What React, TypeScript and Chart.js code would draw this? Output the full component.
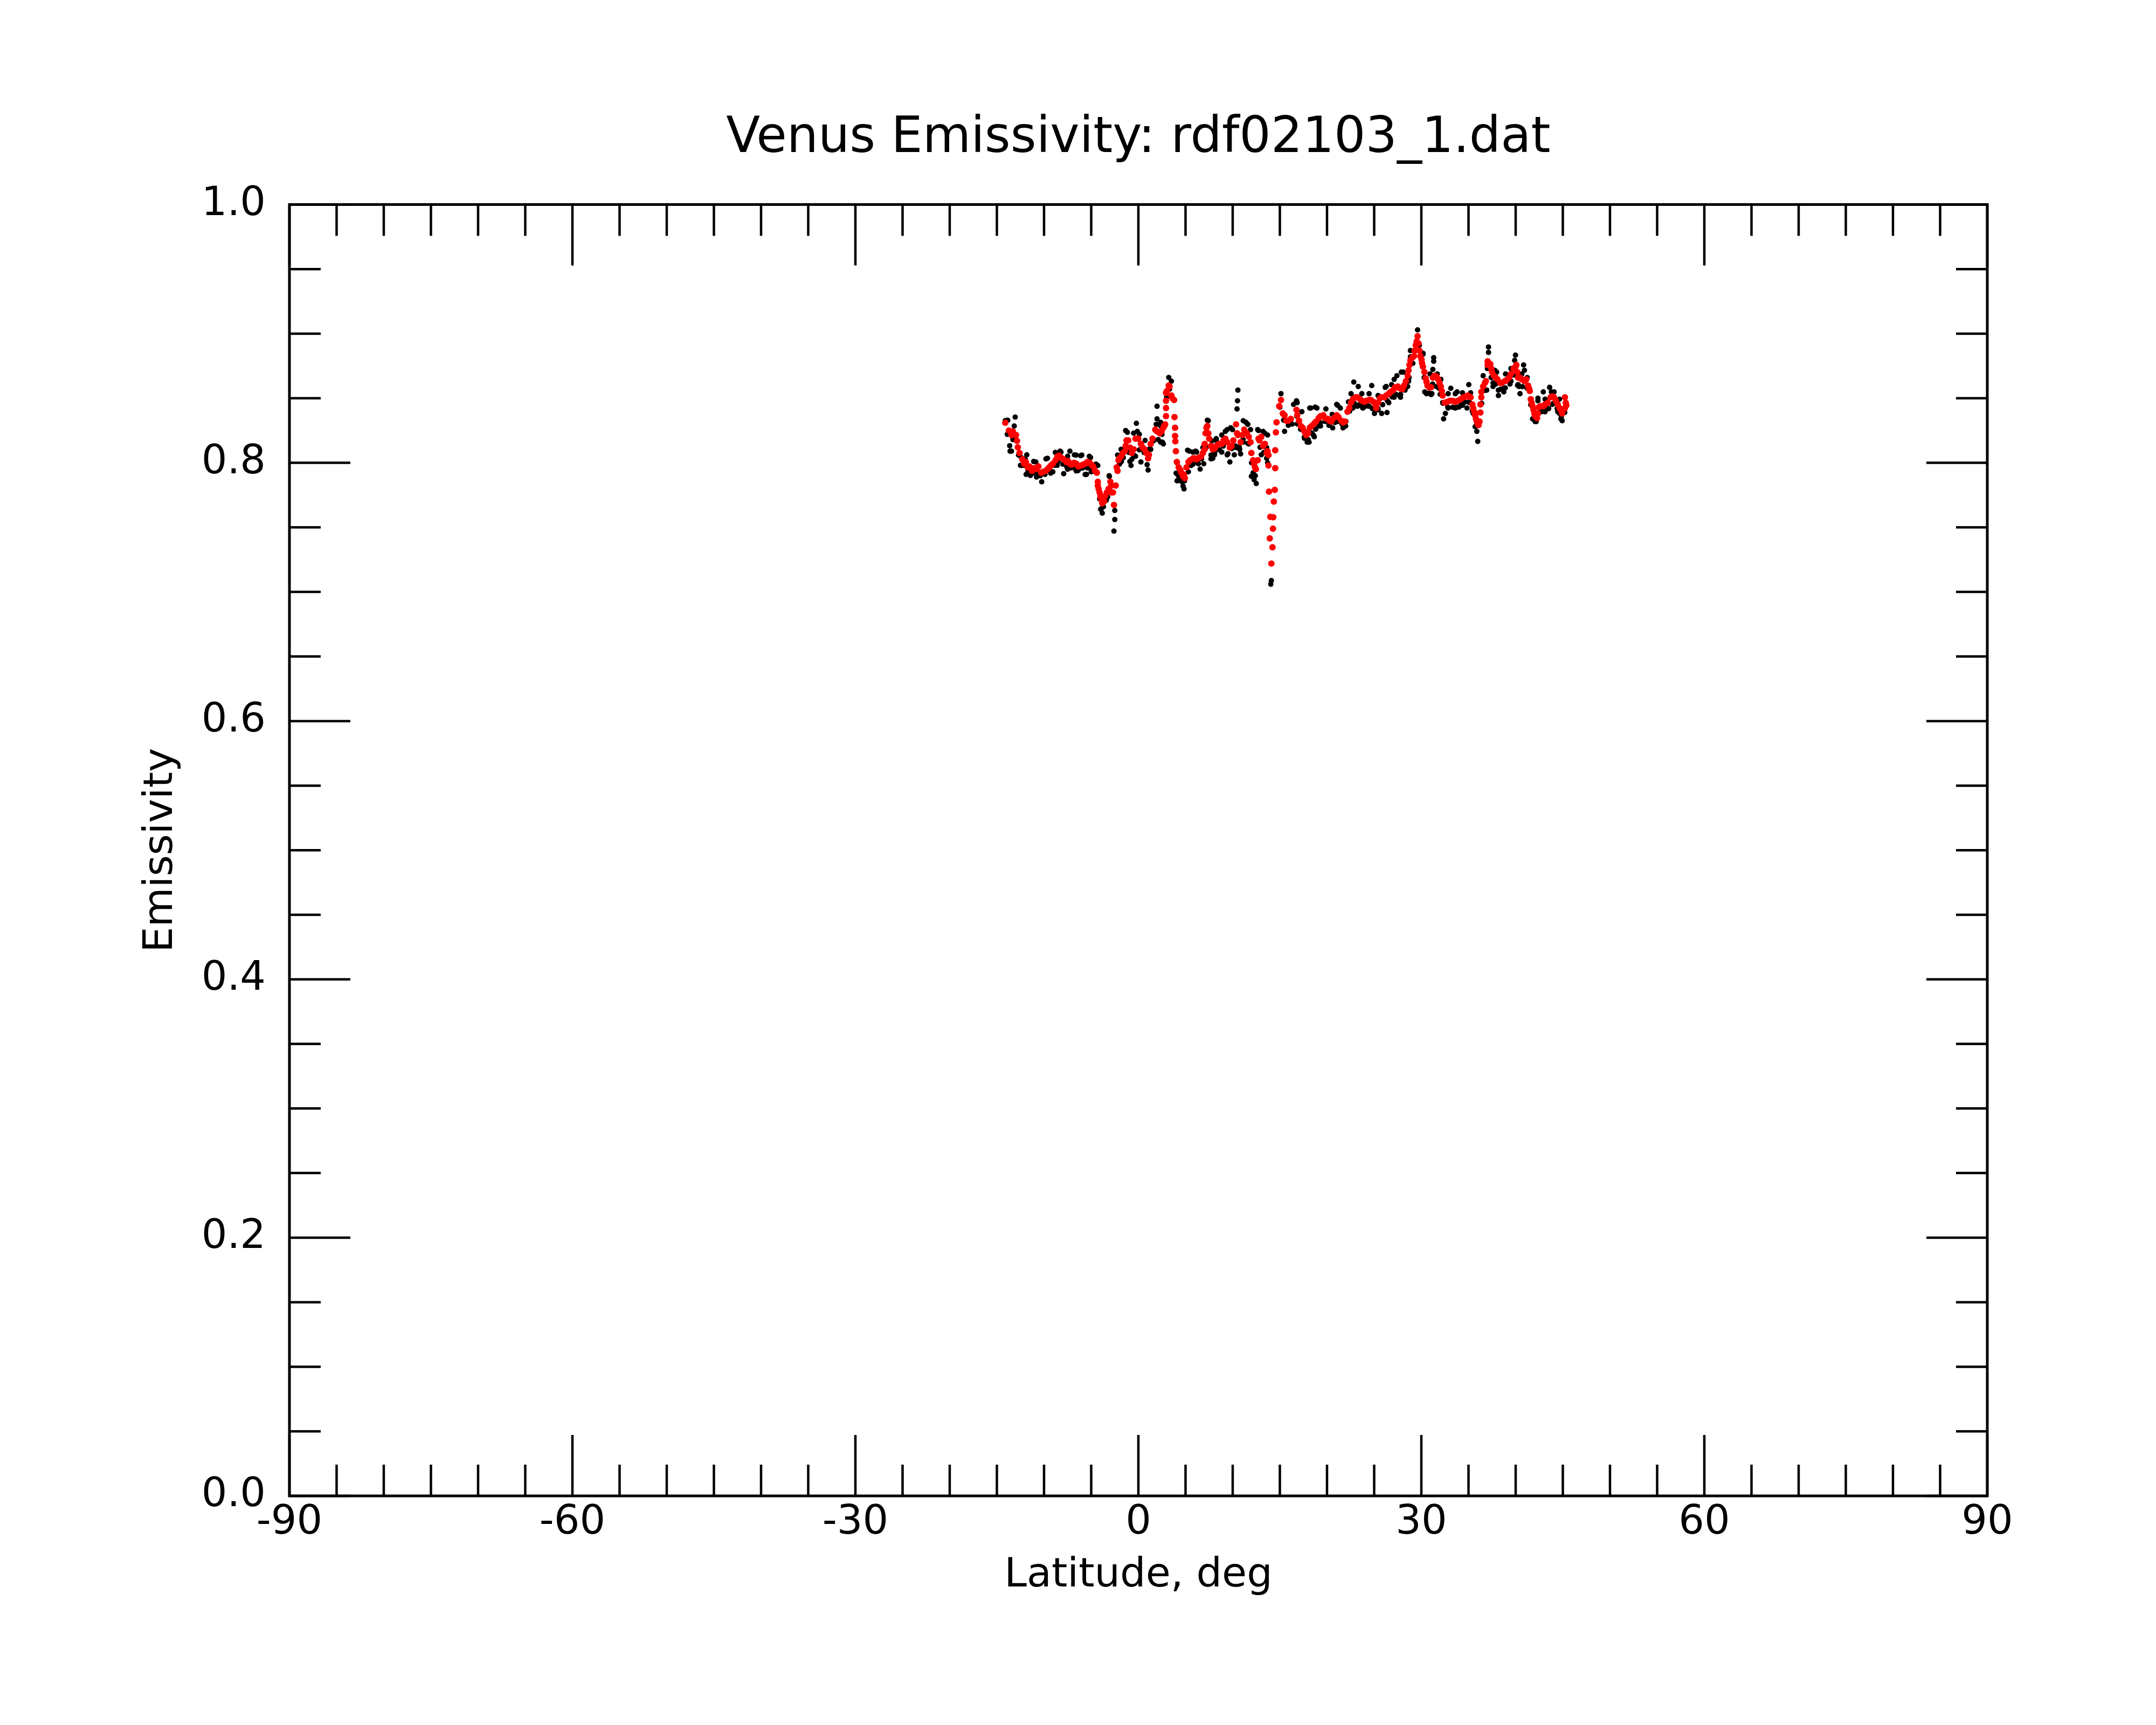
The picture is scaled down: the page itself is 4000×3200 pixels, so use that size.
import { Chart, registerables } from "chart.js";
import { useEffect, useRef } from "react";

Chart.register(...registerables);

const FONT = '"DejaVu Sans", sans-serif';

// Smoothed emissivity (red), latitude in degrees
const smoothLat = [
  -14.11, -13.73, -13.45, -12.97, -12.87, -12.78, -12.6, -12.3, -11.93, -11.54,
  -11.07, -10.6, -10.11, -9.64, -9.26, -8.78, -8.4, -7.92, -7.45, -7.07,
  -6.59, -6.11, -5.64, -5.16, -4.78, -4.4, -4.3, -4.21, -4.02, -3.83,
  -3.54, -3.16, -2.97, -2.69, -2.59, -2.4, -2.21, -2.11, -1.83, -1.45,
  -1.26, -0.88, -0.69, -0.3, 0.27, 0.46, 0.84, 1.03, 1.31, 1.79,
  2.27, 2.65, 2.84, 2.93, 2.93, 2.93, 3.22, 3.5, 3.79, 3.83,
  3.89, 3.89, 3.92, 3.98, 4.08, 4.46, 4.74, 5.1, 5.5, 5.98,
  6.46, 6.84, 7.03, 7.12, 7.31, 7.5, 7.89, 8.26, 8.84, 9.22,
  9.7, 10.07, 10.36, 10.46, 10.84, 11.22, 11.7, 11.98, 12.17, 12.36,
  12.65, 12.84, 13.22, 13.6, 13.79, 13.79, 13.85, 13.93, 13.99, 14.1,
  14.22, 14.27, 14.3, 14.36, 14.46, 14.51, 14.51, 14.58, 14.65, 14.93,
  15.12, 15.31, 15.7, 16.17, 16.76, 17.03, 17.41, 17.79, 18.17, 18.65,
  19.12, 19.6, 20.08, 20.46, 21.03, 21.5, 21.89, 22.17, 22.55, 23.03,
  23.5, 23.98, 24.46, 24.93, 25.22, 25.6, 26.08, 26.55, 27.03, 27.5,
  27.98, 28.36, 28.65, 28.84, 29.22, 29.41, 29.6, 29.79, 30.02, 30.17,
  30.33, 30.46, 30.65, 31.03, 31.41, 31.79, 32.07, 32.26, 32.46, 33.03,
  33.6, 34.17, 34.74, 35.22, 35.41, 35.6, 35.79, 35.98, 36.17, 36.26,
  36.26, 36.36, 36.55, 36.84, 37.03, 37.31, 37.5, 37.89, 38.36, 38.84,
  39.31, 39.79, 40.07, 40.26, 40.65, 41.12, 41.31, 41.5, 41.6, 41.79,
  41.98, 42.27, 42.46, 42.93, 43.41, 43.89, 44.26, 44.65, 44.93, 45.22,
  45.31, 45.22,
  -13.31, -12.11, -11.73, -11.26, -10.78, -10.3, -9.83, -9.45, -9.07, -8.59,
  -8.21, -7.64, -7.26, -6.82, -6.36, -5.87, -5.41, -4.97, -4.59, -4.3,
  -4.11, -3.92, -3.64, -3.35, -2.87, -2.87, -2.3, -2.02, -1.64, -1.35,
  -1.07, -0.5, -0.02, 0.65, 1.12, 1.5, 1.98, 2.46, 2.74, 3.03,
  3.31, 3.6, 2.93, 4.27, 4.55, 4.84, 4.93, 5.31, 5.79, 6.17,
  6.65, 7.03, 7.22, 7.41, 7.7, 8.07, 8.55, 9.03, 9.41, 9.88,
  10.55, 11.03, 11.5, 11.89, 12.27, 12.46, 12.74, 13.03, 13.41, 13.7,
  15.5, 15.89, 16.84, 17.22, 17.6, 17.98, 18.36, 18.84, 19.31, 19.79,
  20.27, 20.74, 21.22, 21.7, 22.36, 22.74, 23.22, 23.7, 24.17, 24.65,
  25.12, 25.41, 25.79, 26.27, 26.74, 27.22, 27.7, 28.17, 28.55, 28.74,
  29.03, 29.31, 29.5, 29.7, 29.89, 30.07, 30.55, 30.84, 31.22, 31.6,
  31.93, 32.17, 32.74, 33.31, 33.88, 34.46, 34.93, 35.5, 35.7, 35.88,
  36.07, 36.36, 36.74, 37.03, 37.41, 37.7, 38.07, 38.55, 39.03, 39.5,
  39.98, 40.17, 40.46, 40.93, 41.41, 41.7, 41.89, 42.07, 42.36, 42.65,
  43.12, 43.7, 44.07, 44.46, 44.8, 45.03, 45.37,
];
const smoothEmis = [
  0.831, 0.825, 0.8215, 0.8215, 0.817, 0.812, 0.8076, 0.8027, 0.8006, 0.7972,
  0.7958, 0.7972, 0.793, 0.7951, 0.7979, 0.802, 0.8055, 0.8027, 0.8013, 0.7985,
  0.7993, 0.7979, 0.7993, 0.8, 0.7972, 0.7923, 0.7853, 0.7798, 0.7742, 0.7687,
  0.7742, 0.7798, 0.7853, 0.777, 0.7673, 0.7824, 0.7937, 0.802, 0.8048, 0.809,
  0.8173, 0.8118, 0.8076, 0.8187, 0.8146, 0.8118, 0.8076, 0.8035, 0.8146, 0.8257,
  0.8229, 0.8271, 0.8298, 0.8361, 0.8424, 0.8542, 0.8598, 0.8521, 0.8486, 0.8354,
  0.8271, 0.8208, 0.8166, 0.809, 0.8006, 0.7944, 0.7895, 0.7965, 0.802, 0.8035,
  0.8041, 0.8076, 0.8146, 0.8229, 0.8285, 0.8187, 0.8104, 0.8131, 0.8146, 0.8187,
  0.8118, 0.8173, 0.8298, 0.8229, 0.816, 0.8257, 0.8202, 0.8076, 0.802, 0.7965,
  0.802, 0.8173, 0.8131, 0.8076, 0.806, 0.7979, 0.7777, 0.7415, 0.7582, 0.722,
  0.7346, 0.749, 0.7578, 0.77, 0.779, 0.7958, 0.8097, 0.8236, 0.8313, 0.8438,
  0.8486, 0.8382, 0.8326, 0.834, 0.841, 0.8326, 0.8271, 0.8215, 0.8271, 0.8306,
  0.8347, 0.8368, 0.834, 0.8319, 0.8368, 0.8326, 0.8319, 0.8396, 0.8465, 0.8507,
  0.8493, 0.8472, 0.8486, 0.8472, 0.8424, 0.85, 0.8507, 0.8535, 0.8563, 0.8591,
  0.857, 0.8632, 0.8716, 0.8793, 0.8827, 0.8911, 0.898, 0.8869, 0.88, 0.8744,
  0.8702, 0.8653, 0.8598, 0.8584, 0.8674, 0.8646, 0.8591, 0.8521, 0.8465, 0.848,
  0.8472, 0.8493, 0.8514, 0.8507, 0.8452, 0.8396, 0.834, 0.8298, 0.8319, 0.8389,
  0.8452, 0.8507, 0.8591, 0.8632, 0.8786, 0.8765, 0.8702, 0.866, 0.8619, 0.8632,
  0.866, 0.873, 0.8758, 0.866, 0.8646, 0.8646, 0.8598, 0.8556, 0.8493, 0.8438,
  0.8382, 0.8347, 0.8431, 0.8438, 0.8465, 0.8514, 0.848, 0.8424, 0.8382, 0.8424,
  0.8465, 0.8507,
  0.8243, 0.7993, 0.7965, 0.7937, 0.7951, 0.7923, 0.7937, 0.7965, 0.7993, 0.8048,
  0.8041, 0.8006, 0.7993, 0.8, 0.7972, 0.7985, 0.8006, 0.7985, 0.7937, 0.7824,
  0.777, 0.7715, 0.7701, 0.777, 0.7824, 0.777, 0.7965, 0.8035, 0.8076, 0.8131,
  0.8173, 0.8104, 0.8187, 0.8104, 0.8062, 0.8187, 0.8243, 0.8243, 0.8285, 0.8556,
  0.8591, 0.85, 0.848, 0.7965, 0.7923, 0.7909, 0.7881, 0.8006, 0.8035, 0.8027,
  0.8048, 0.8104, 0.8271, 0.8229, 0.8131, 0.811, 0.8146, 0.8173, 0.816, 0.8131,
  0.8215, 0.8215, 0.8229, 0.816, 0.7993, 0.7951, 0.8187, 0.8201, 0.8146, 0.809,
  0.8368, 0.8326, 0.8368, 0.8285, 0.8243, 0.8229, 0.8285, 0.8319, 0.8361, 0.8347,
  0.8326, 0.8347, 0.8354, 0.8312, 0.8424, 0.8493, 0.8507, 0.848, 0.848, 0.8486,
  0.8452, 0.8465, 0.8507, 0.8521, 0.8549, 0.8584, 0.8577, 0.8598, 0.8674, 0.8758,
  0.8814, 0.8869, 0.8939, 0.8925, 0.8827, 0.8772, 0.8626, 0.8584, 0.866, 0.8667,
  0.8619, 0.8556, 0.8472, 0.848, 0.848, 0.8507, 0.8521, 0.8424, 0.8368, 0.8319,
  0.8292, 0.8549, 0.8619, 0.8758, 0.873, 0.8674, 0.8646, 0.8619, 0.864, 0.8688,
  0.8744, 0.8702, 0.866, 0.8632, 0.8577, 0.8465, 0.841, 0.8361, 0.8382, 0.8438,
  0.8452, 0.8507, 0.8507, 0.8452, 0.841, 0.841, 0.8445,
];

// Raw emissivity samples (black)
const rawLat = [
  -14.11, -13.06, -13.16, -13.64, -13.45, -12.4, -11.83, -11.45, -10.87, -10.25,
  -10.59, -9.64, -9.07, -8.69, -8.21, -7.92, -7.26, -6.78, -6.59, -6.11,
  -5.64, -5.07, -4.3, -3.83, -3.92, -3.07, -3.26, -2.5, -2.5, -2.59,
  -1.83, -1.16, -0.78, -0.69, -0.21, -0.11, 0.27, 0.71, 1.03, 0.93,
  1.98, 1.98, 2.55, 2.36, 3.22, 3.5, 4.17, 4.84, 4.65, 5.41,
  6.07, 6.55, 6.93, 7.41, 7.89, 8.26, 9.22, 9.79, 9.7, 10.17,
  10.55, 10.51, 10.46, 10.84, 11.41, 11.89, 12.17, 12.5, 12.74, 13.41,
  13.6, 14.1, 14.04, 15.12, 15.5, 16.45, 16.76, 17.33, 18.1, 18.65,
  18.27, 18.93, 19.31, 21.03, 21.41, 21.89, 22.27, 22.84, 23.31, 23.22,
  23.79, 24.74, 25.03, 25.79, 26.36, 26.17, 26.84, 27.41, 28.07, 27.79,
  28.55, 28.84, 29.6, 30.17, 31.31, 31.31, 31.22, 30.55, 31.03, 32.07,
  32.36, 33.12, 33.79, 32.55, 33.98, 34.84, 35.03, 35.88, 35.98, 36.55,
  36.93, 37.12, 37.12, 37.79, 37.6, 38.17, 38.74, 39.98, 39.89, 40.84,
  40.93, 40.46, 40.26, 42.17, 42.36, 42.93, 43.6, 43.12, 43.79, 44.93,
  44.65,
  -13.9, -13.3, -12.7, -12.1, -11.7, -11.2, -10.8, -10.4, -9.9, -9.4,
  -8.9, -8.5, -8.0, -7.6, -7.2, -6.8, -6.3, -5.9, -5.4, -5.0,
  -4.6, -4.1, -3.7, -3.4, -3.0, -2.0, -1.6, -1.0, -0.5, 0.1,
  0.6, 1.2, 1.6, 2.1, 2.5, 3.0, 3.3, 4.3, 4.9, 5.3,
  5.8, 6.3, 6.7, 7.2, 7.7, 8.1, 8.6, 9.0, 9.5, 9.9,
  10.3, 10.7, 11.1, 11.6, 12.0, 12.4, 12.9, 13.3, 13.7, 15.0,
  15.4, 15.9, 16.3, 16.8, 17.2, 17.6, 18.0, 18.4, 18.8, 19.3,
  19.8, 20.2, 20.6, 21.2, 21.7, 22.0, 22.4, 22.9, 23.4, 23.9,
  24.3, 24.8, 25.4, 25.9, 26.4, 26.9, 27.3, 27.8, 28.2, 28.7,
  29.1, 29.5, 29.9, 30.3, 30.8, 31.2, 31.6, 32.0, 32.3, 32.8,
  33.3, 33.7, 34.2, 34.6, 35.0, 35.4, 35.7, 36.4, 36.7, 37.0,
  37.4, 37.9, 38.4, 38.9, 39.4, 39.8, 40.2, 40.7, 41.2, 41.6,
  42.0, 42.5, 43.0, 43.5, 44.0, 44.4, 44.8, 45.2,
  -13.85, -12.4, -12.0, -11.1, -9.8, -8.8, -8.3, -7.5, -6.6, -6.0,
  -5.2, -4.5, -3.1, -2.2, -1.35, -0.5, 0.1, -13.6, -12.5, -11.9,
  -10.8, -9.3, -8.6, -7.5, -6.4, -5.5, -5.0, -4.0, -3.4, -1.8,
  -0.9, -0.3, 1.89, 2.36, 4.1, 4.2, 5.22, 5.79, 6.17, 6.84,
  7.31, 7.8, 8.26, 8.84, 9.41, 9.98, 11.12, 11.6, 12.65, 13.22,
  13.7, 1.31, 2.36, 2.65, 4.0, 4.1, 4.46, 4.74, 5.6, 6.36,
  7.7, 8.07, 8.84, 9.41, 10.36, 10.74, 11.12, 11.7, 11.98, 12.27,
  13.03, 13.6, 16.84, 18.17, 18.74, 19.88, 20.55, 21.13, 22.55, 23.69,
  24.46, 25.41, 26.27, 27.12, 27.88, 28.84, 29.79, 30.17, 30.93, 31.69,
  16.84, 17.6, 17.9, 18.55, 19.12, 20.27, 20.84, 21.6, 21.98, 22.74,
  23.69, 24.46, 25.41, 26.55, 27.12, 27.69, 28.27, 28.65, 30.36, 31.12,
  31.88, 32.26, 32.84, 33.6, 34.36, 35.22, 37.22, 37.98, 38.93, 39.5,
  40.65, 41.22, 42.36, 43.12, 44.07, 44.65, 32.84, 33.6, 34.36, 35.12,
  35.5, 35.79, 37.6, 38.17, 38.74, 39.5, 40.36, 41.22, 41.79, 42.07,
  42.74, 43.31, 43.88, 44.46, 44.84,
];
const rawEmis = [
  0.8327, 0.8354, 0.8285, 0.8132, 0.809, 0.7979, 0.8062, 0.7902, 0.8006, 0.7853,
  0.7909, 0.8035, 0.793, 0.8076, 0.8083, 0.7916, 0.809, 0.8062, 0.7937, 0.8055,
  0.7909, 0.8041, 0.7979, 0.761, 0.7645, 0.7895, 0.7735, 0.7631, 0.7561, 0.7471,
  0.8104, 0.8236, 0.7979, 0.8027, 0.8306, 0.8243, 0.8006, 0.8173, 0.7944, 0.7985,
  0.8438, 0.834, 0.816, 0.8285, 0.8661, 0.8632, 0.7909, 0.7798, 0.7853, 0.809,
  0.809, 0.7951, 0.7993, 0.8326, 0.8035, 0.8173, 0.8243, 0.8271, 0.8006, 0.8062,
  0.8563, 0.848, 0.8417, 0.8069, 0.8313, 0.8257, 0.7923, 0.7839, 0.825, 0.8229,
  0.8118, 0.7088, 0.706, 0.8535, 0.8243, 0.8452, 0.848, 0.8396, 0.816, 0.8202,
  0.8424, 0.8424, 0.8285, 0.8452, 0.8424, 0.8285, 0.8472, 0.8625, 0.8591, 0.8438,
  0.8424, 0.8598, 0.8382, 0.8382, 0.8389, 0.8584, 0.8605, 0.8674, 0.8702, 0.8507,
  0.8591, 0.8869, 0.9029, 0.8848, 0.8814, 0.8786, 0.8723, 0.8535, 0.8528, 0.8646,
  0.834, 0.8577, 0.8549, 0.8382, 0.8431, 0.8424, 0.8605, 0.8243, 0.8166, 0.8674,
  0.8563, 0.8897, 0.8855, 0.8716, 0.8619, 0.8521, 0.8549, 0.8834, 0.8793, 0.8758,
  0.8716, 0.8535, 0.8605, 0.8319, 0.85, 0.8549, 0.8584, 0.8396, 0.8549, 0.8326,
  0.8382,
  0.822, 0.818, 0.806, 0.798, 0.794, 0.792, 0.793, 0.79, 0.791, 0.794,
  0.798, 0.801, 0.799, 0.797, 0.796, 0.796, 0.795, 0.796, 0.796, 0.796,
  0.793, 0.772, 0.766, 0.771, 0.781, 0.799, 0.804, 0.808, 0.806, 0.81,
  0.808, 0.811, 0.817, 0.818, 0.822, 0.851, 0.857, 0.789, 0.786, 0.793,
  0.799, 0.8, 0.803, 0.812, 0.806, 0.808, 0.81, 0.813, 0.807, 0.811,
  0.813, 0.812, 0.818, 0.815, 0.8, 0.79, 0.812, 0.808, 0.8, 0.843,
  0.833, 0.829, 0.83, 0.836, 0.826, 0.819, 0.818, 0.823, 0.826, 0.831,
  0.832, 0.829, 0.827, 0.832, 0.827, 0.832, 0.84, 0.846, 0.845, 0.843,
  0.844, 0.842, 0.842, 0.845, 0.848, 0.851, 0.853, 0.853, 0.857, 0.866,
  0.877, 0.893, 0.882, 0.866, 0.854, 0.861, 0.859, 0.853, 0.846, 0.843,
  0.843, 0.843, 0.845, 0.847, 0.847, 0.84, 0.828, 0.846, 0.856, 0.873,
  0.866, 0.861, 0.857, 0.858, 0.861, 0.868, 0.86, 0.859, 0.858, 0.845,
  0.833, 0.839, 0.84, 0.842, 0.846, 0.842, 0.834, 0.839,
  0.833, 0.804, 0.803, 0.801, 0.803, 0.808, 0.809, 0.805, 0.806, 0.806,
  0.805, 0.799, 0.79, 0.806, 0.825, 0.823, 0.822, 0.809, 0.798, 0.791,
  0.789, 0.792, 0.798, 0.795, 0.794, 0.791, 0.793, 0.764, 0.772, 0.801,
  0.801, 0.805, 0.8298, 0.8313, 0.8, 0.792, 0.8097, 0.8083, 0.8083, 0.8118,
  0.833, 0.817, 0.8187, 0.8215, 0.8257, 0.8257, 0.8326, 0.8298, 0.8257, 0.8243,
  0.8215, 0.8104, 0.816, 0.8146, 0.792, 0.786, 0.786, 0.782, 0.7979, 0.7993,
  0.803, 0.8062, 0.8083, 0.8062, 0.8118, 0.8104, 0.816, 0.8146, 0.7896, 0.787,
  0.8062, 0.8035, 0.8466, 0.8424, 0.8431, 0.8417, 0.8375, 0.8445, 0.8535, 0.8535,
  0.8535, 0.8521, 0.8591, 0.8646, 0.8702, 0.882, 0.8911, 0.884, 0.8688, 0.8688,
  0.8301, 0.8201, 0.816, 0.8215, 0.8285, 0.8298, 0.8312, 0.8298, 0.8285, 0.8424,
  0.8438, 0.8438, 0.841, 0.8466, 0.8507, 0.8521, 0.8563, 0.8632, 0.8549, 0.8535,
  0.8577, 0.8466, 0.8535, 0.8535, 0.8542, 0.8542, 0.873, 0.8702, 0.8688, 0.873,
  0.8688, 0.866, 0.848, 0.8493, 0.8549, 0.8493, 0.8424, 0.8424, 0.8445, 0.8466,
  0.8382, 0.8285, 0.8591, 0.8563, 0.8577, 0.8632, 0.8591, 0.8577, 0.834, 0.8319,
  0.8396, 0.8417, 0.8452, 0.8396, 0.8354,
];

// Axis ticks
const xMajorTicks = [-90, -60, -30, 0, 30, 60, 90];
const xMinorStep = 5;
const yMajorTicks = [0, 0.2, 0.4, 0.6, 0.8, 1.0];
const yMinorStep = 0.05;

const MAJOR_LEN = 113;
const MINOR_LEN = 58;

// Box frame plus inward tick marks on all four sides
const framePlugin = {
  id: "frameTicks",
  afterDraw(chart: Chart) {
    const { ctx, chartArea: a } = chart;
    const xs = chart.scales.x;
    const ys = chart.scales.y;
    ctx.save();
    ctx.strokeStyle = "#000000";
    ctx.lineWidth = 4.5;
    ctx.beginPath();
    for (let v = -90; v <= 90; v += xMinorStep) {
      const len = xMajorTicks.includes(v) ? MAJOR_LEN : MINOR_LEN;
      const px = xs.getPixelForValue(v);
      ctx.moveTo(px, a.bottom);
      ctx.lineTo(px, a.bottom - len);
      ctx.moveTo(px, a.top);
      ctx.lineTo(px, a.top + len);
    }
    for (let i = 0; i <= 20; i++) {
      const v = i * yMinorStep;
      const isMajor = yMajorTicks.some((t) => Math.abs(t - v) < 1e-6);
      const len = isMajor ? MAJOR_LEN : MINOR_LEN;
      const py = ys.getPixelForValue(v);
      ctx.moveTo(a.left, py);
      ctx.lineTo(a.left + len, py);
      ctx.moveTo(a.right, py);
      ctx.lineTo(a.right - len, py);
    }
    ctx.stroke();
    ctx.lineWidth = 5;
    ctx.strokeRect(a.left, a.top, a.right - a.left, a.bottom - a.top);
    ctx.restore();
  },
};

const App = () => {
  const canvasRef = useRef<HTMLCanvasElement>(null);

  useEffect(() => {
    if (!canvasRef.current) return;

    const chart = new Chart(canvasRef.current, {
      type: "scatter",
      data: {
        datasets: [
          {
            label: "Smoothed",
            data: smoothLat.map((x, i) => ({ x, y: smoothEmis[i] })),
            backgroundColor: "#ff0000",
            borderColor: "#ff0000",
            borderWidth: 0,
            pointRadius: 6,
            order: 0,
          },
          {
            label: "Raw",
            data: rawLat.map((x, i) => ({ x, y: rawEmis[i] })),
            backgroundColor: "#000000",
            borderColor: "#000000",
            borderWidth: 0,
            pointRadius: 5,
            order: 1,
          },
        ],
      },
      options: {
        animation: false,
        responsive: false,
        devicePixelRatio: 1,
        layout: { padding: { left: 0, right: 313, top: 0, bottom: 0 } },
        plugins: {
          legend: { display: false },
          tooltip: { enabled: false },
          title: {
            display: true,
            fullSize: false,
            text: "Venus Emissivity: rdf02103_1.dat",
            color: "#000000",
            font: { family: FONT, size: 92, weight: "normal" },
            padding: { top: 203, bottom: 66 },
          },
        },
        scales: {
          x: {
            type: "linear",
            min: -90,
            max: 90,
            grid: { display: false, drawTicks: false },
            border: { display: false },
            ticks: {
              stepSize: 30,
              color: "#000000",
              font: { family: FONT, size: 75 },
              padding: 6,
              maxRotation: 0,
              autoSkip: false,
            },
            title: {
              display: true,
              text: "Latitude, deg",
              color: "#000000",
              font: { family: FONT, size: 75 },
              padding: { top: 0, bottom: 231 },
            },
            afterFit: (scale) => {
              scale.height = 425;
            },
          },
          y: {
            type: "linear",
            min: 0,
            max: 1,
            grid: { display: false, drawTicks: false },
            border: { display: false },
            ticks: {
              stepSize: 0.2,
              color: "#000000",
              font: { family: FONT, size: 75 },
              padding: 44,
              callback: (v) => Number(v).toFixed(1),
            },
            title: {
              display: true,
              text: "Emissivity",
              color: "#000000",
              font: { family: FONT, size: 75 },
              padding: { top: 255, bottom: 0 },
            },
            afterFit: (scale) => {
              scale.width = 537;
            },
          },
        },
      },
      plugins: [framePlugin],
    });

    return () => {
      chart.destroy();
    };
  }, []);

  return (
    <div
      style={{
        position: "absolute",
        left: 0,
        top: 0,
        width: 4000,
        height: 3200,
        background: "#ffffff",
      }}
    >
      <canvas
        ref={canvasRef}
        width={4000}
        height={3200}
        style={{ display: "block", width: 4000, height: 3200 }}
      />
    </div>
  );
};

export default App;
